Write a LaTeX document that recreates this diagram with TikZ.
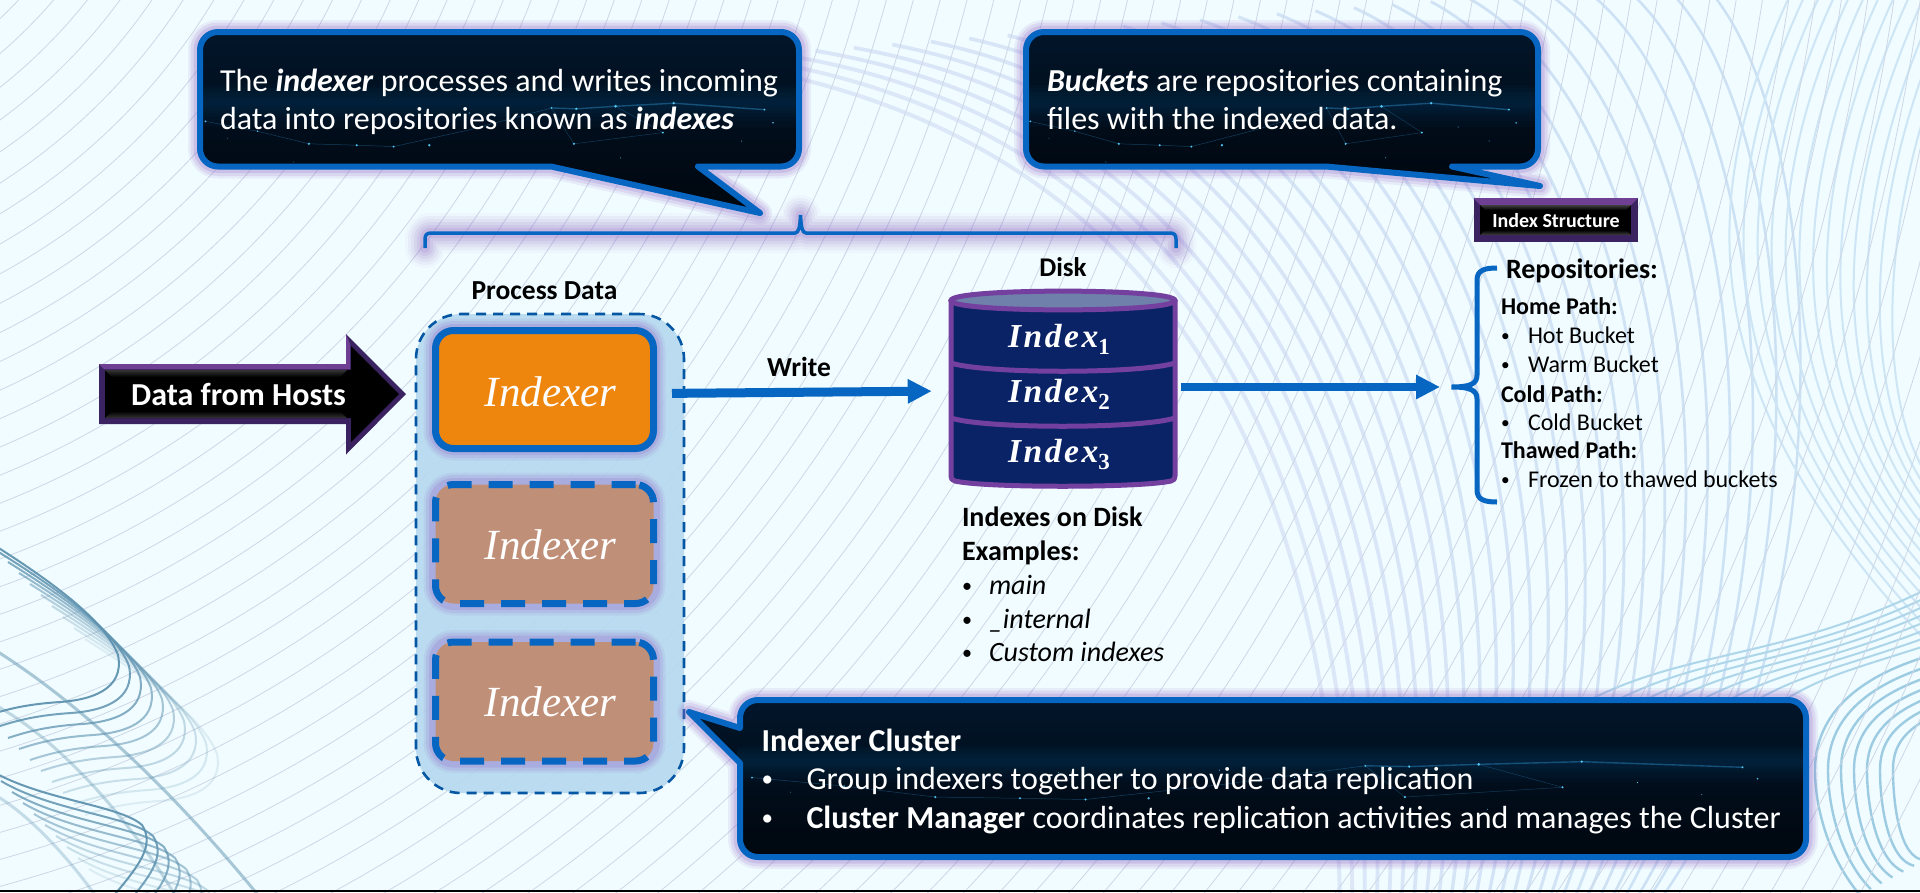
\documentclass[tikz,border=0pt]{standalone}
\usepackage{fontspec}
\setmainfont{Carlito}
\newfontfamily\serifidx{Liberation Serif}
\usetikzlibrary{arrows.meta}
\definecolor{bgc}{HTML}{F0FCFF}
\definecolor{thinc}{HTML}{CDD7E6}
\definecolor{strokeblue}{HTML}{0666C1}
\definecolor{glowc}{HTML}{8E63C4}
\definecolor{navy}{HTML}{0A2366}
\definecolor{cylp}{HTML}{7440A0}
\definecolor{cylt}{HTML}{6F80AB}
\definecolor{orangeb}{HTML}{EE860E}
\definecolor{brownb}{HTML}{C08F78}
\definecolor{contf}{HTML}{B4D8EF}
\definecolor{darkp}{HTML}{3B2261}
\definecolor{litep}{HTML}{6E3F92}
\definecolor{waveL}{HTML}{DCE7F8}
\definecolor{waveR}{HTML}{CBE1F3}
\definecolor{waveB}{HTML}{CDE5F4}
\definecolor{waveD}{HTML}{AED6EA}
\definecolor{waveC}{HTML}{9CCBE2}
\definecolor{motif}{HTML}{5F93B0}
\definecolor{skytop}{HTML}{02162B}
\definecolor{skymid}{HTML}{03203A}
\definecolor{skybot}{HTML}{00060D}
\definecolor{skyband}{HTML}{0E5C96}
\definecolor{skyline}{HTML}{2F8CC8}
\definecolor{skydot}{HTML}{4FC3EE}
\newcommand\fsz[1]{\fontsize{#1}{#1}\selectfont}
\newcommand\bitxt[1]{\textbf{\textit{#1}}}
\newcommand\bul[1]{\makebox[#1][l]{\raisebox{.07em}{\scalebox{.72}{•}}}}
\newcommand\idx[1]{{\serifidx\bfseries\itshape\addfontfeatures{LetterSpace=7.5}\fsz{33.5}Index}\raisebox{-7pt}{\serifidx\bfseries\fsz{23}#1}}
% rounded box with insertable pointers: x0 y0 x1 y1 bottomPointer leftPointer
\newcommand\cpath[6]{(#1+18,#2) -- (#3-18,#2) .. controls (#3-8,#2) and (#3,#2+8) .. (#3,#2+18) -- (#3,#4-18) .. controls (#3,#4-8) and (#3-8,#4) .. (#3-18,#4) #5 -- (#1+18,#4) .. controls (#1+8,#4) and (#1,#4-8) .. (#1,#4-18) #6 -- (#1,#2+18) .. controls (#1,#2+8) and (#1+8,#2) .. (#1+18,#2) -- cycle}
% night-sky texture in normalised coordinates of the box
\newcommand\sky[4]{%
  \foreach \bb/\hh in {.50/.06,.48/.10,.46/.14,.44/.18,.42/.24,.40/.30}{
    \fill[fill=skyband,fill opacity=.045] (#1,{#2+\bb*(#4-#2)}) rectangle (#3,{#2+(\bb+\hh)*(#4-#2)});
  }
  \draw[skyline,line width=.5pt,opacity=.4]
    ({#1+.014*(#3-#1)},{#2+.66*(#4-#2)}) -- ({#1+.10*(#3-#1)},{#2+.73*(#4-#2)}) -- ({#1+.185*(#3-#1)},{#2+.82*(#4-#2)}) -- ({#1+.264*(#3-#1)},{#2+.83*(#4-#2)}) -- ({#1+.325*(#3-#1)},{#2+.84*(#4-#2)}) -- ({#1+.45*(#3-#1)},{#2+.72*(#4-#2)}) -- ({#1+.586*(#3-#1)},{#2+.564*(#4-#2)});
  \draw[skyline,line width=1.4pt,opacity=.45] ({#1+.586*(#3-#1)},{#2+.564*(#4-#2)}) -- ({#1+.627*(#3-#1)},{#2+.57*(#4-#2)}) -- ({#1+.692*(#3-#1)},{#2+.552*(#4-#2)}) -- ({#1+.788*(#3-#1)},{#2+.53*(#4-#2)}) -- ({#1+.938*(#3-#1)},{#2+.576*(#4-#2)});
  \draw[skyline,line width=.5pt,opacity=.35] ({#1+.586*(#3-#1)},{#2+.564*(#4-#2)}) -- ({#1+.623*(#3-#1)},{#2+.82*(#4-#2)}) -- ({#1+.77*(#3-#1)},{#2+.74*(#4-#2)}) -- ({#1+.692*(#3-#1)},{#2+.552*(#4-#2)});
  \foreach \uu/\vv/\rr in {.014/.66/1.0,.10/.73/.8,.185/.82/1.2,.264/.83/1.1,.325/.84/1.1,.384/.83/1.3,.623/.82/1.2,.586/.564/1,.627/.57/1.3,.692/.552/1.5,.788/.53/1.3,.938/.576/1.1,.952/.67/.9,.77/.74/1.1,.45/.60/.6,.52/.66/.6,.84/.7/.6,.9/.8/.5,.3/.62/.5,.16/.95/.4,.7/.92/.5,.05/.78/.4}{
    \fill[skydot] ({#1+\uu*(#3-#1)},{#2+\vv*(#4-#2)}) circle[radius=\rr];
  }
}
\tikzset{
  softglow/.style={
    preaction={draw=glowc,solid,draw opacity=.10,line width=24pt,line join=round},
    preaction={draw=glowc,solid,draw opacity=.14,line width=19pt,line join=round},
    preaction={draw=glowc,solid,draw opacity=.20,line width=13pt,line join=round}},
  bigglow/.style={
    preaction={draw=glowc,solid,draw opacity=.04,line width=40pt,line join=round,line cap=round},
    preaction={draw=glowc,solid,draw opacity=.06,line width=34pt,line join=round,line cap=round},
    preaction={draw=glowc,solid,draw opacity=.08,line width=28pt,line join=round,line cap=round},
    preaction={draw=glowc,solid,draw opacity=.10,line width=22pt,line join=round,line cap=round},
    preaction={draw=glowc,solid,draw opacity=.12,line width=16pt,line join=round,line cap=round},
    preaction={draw=glowc,solid,draw opacity=.14,line width=10pt,line join=round,line cap=round}},
  calloutedge/.style={draw=strokeblue,line width=6pt,line join=round},
  txt/.style={anchor=base west,inner sep=0pt,outer sep=0pt},
  ctr/.style={anchor=base,inner sep=0pt,outer sep=0pt},
  idxbox/.style={rectangle,rounded corners=18pt,minimum width=218pt,draw=strokeblue,line width=7pt,inner sep=0pt,
    text=white,font={\serifidx\itshape\fsz{43}},text depth=0pt,softglow},
  dashbox/.style={idxbox,dash pattern=on 24pt off 17pt,fill=brownb,text height=30pt},
  flowarrow/.style={draw=strokeblue,-{Triangle[length=24pt,width=23pt]}},
}
\begin{document}
\begin{tikzpicture}[x=1pt,y=-1pt]
\useasboundingbox (0,0) rectangle (1920,892);
\begin{scope}
\clip (0,0) rectangle (1920,892);
\fill[bgc] (0,0) rectangle (1920,892);
% thick lavender lines sweeping from the upper middle down the right side
\foreach \k in {0,...,26}{
  \pgfmathsetmacro\t{\k/26}
  \pgfmathsetmacro\mixv{int(100*\t)}
  \pgfmathsetmacro\lw{4-1.6*\t}
  \draw[waveR!\mixv!waveL,line width=\lw pt] ({700+1000*\t},{60-80*\t}) .. controls ({1150+690*\t},120) and ({1330+510*\t},{450+200*\t}) .. ({1340+320*\t},900);
}
% right-hand S curves
\foreach \k in {0,...,12}{
  \draw[waveB,line width=2pt] ({1790+15*\k},-5) .. controls ({1690+15*\k},{210}) and ({1700+15*\k},{400}) .. ({1925},{640-14*\k});
}
% sweep into the right edge
\foreach \k in {0,...,7}{
  \draw[waveD,line width=2pt] ({1580+28*\k},705) .. controls ({1680+20*\k},{650+4*\k}) and ({1780+8*\k},{660+2*\k}) .. (1925,{590+8*\k});
}
% arcs, lower right
\foreach \k in {0,...,6}{
  \pgfmathsetmacro\s{\k/6}
  \draw[waveC,line width=2.4pt] (1925,{657+63*\s}) .. controls ({1850+50*\s},{680+55*\s}) and ({1815+78*\s},{720+30*\s}) .. ({1815+78*\s},770) .. controls ({1815+78*\s},{810-5*\s}) and ({1830+70*\s},860) .. ({1860+65*\s},{895-35*\s});
}
% thin family
\foreach \rr in {480,506,...,2520}{
  \draw[thinc,line width=.8pt] (-330,-330) circle[radius=\rr];
}
% lower left motif
\foreach \i/\o in {0/.95,1/.85,2/.75,3/.62,4/.52,5/.42,6/.34,7/.27,8/.2,9/.14}{
  \begin{scope}[shift={({11*\i},{11*\i})}]
  \draw[motif,line width=2pt,opacity=\o] (-14,540) .. controls (50,580) and (105,620) .. (118,655) .. controls (125,690) and (90,700) .. (60,702) .. controls (30,704) and (10,708) .. (-14,716);
  \draw[motif,line width=2pt,opacity=\o] (-10,770) .. controls (40,800) and (120,805) .. (142,825) .. controls (155,845) and (140,865) .. (110,900);
  \end{scope}
}
\draw[motif,line width=3pt,opacity=.5] (-5,650) .. controls (90,710) and (180,800) .. (258,895);
\draw[motif,line width=3pt,opacity=.35] (-5,705) .. controls (60,740) and (130,820) .. (175,895);
\draw[motif,line width=3pt,opacity=.3] (-5,795) .. controls (30,815) and (70,860) .. (95,895);
\fill[black] (0,890) rectangle (1920,892);
\end{scope}

% bracket over both
\draw[draw=strokeblue,line width=3.5pt,bigglow] (425,248) -- (425,239) .. controls (425,235) and (427,233) .. (431,233) -- (795,233) .. controls (799,233) and (800,226) .. (800.5,215) .. controls (801,226) and (802,233) .. (806,233) -- (1170,233) .. controls (1174,233) and (1176,235) .. (1176,239) -- (1176,248);

% top-left callout
\newcommand\calloutA{\cpath{200}{32}{799}{166.5}{-- (698,166.5) -- (760,213) -- (551,166.5)}{}}
\path[softglow] \calloutA;
\begin{scope}
\clip \calloutA;
\shade[top color=skytop,middle color=skymid,bottom color=skybot] (190,25) rectangle (810,220);
\sky{197}{29}{802}{169}
\end{scope}
\draw[calloutedge] \calloutA;
\node[txt,text=white] (t1a) at (220,91) {\fsz{32}The \bitxt{indexer} processes and writes incoming};
\node[txt,text=white] (t1b) at (220,129) {\fsz{32}data into repositories known as \bitxt{indexes}};

% top-right callout
\newcommand\calloutB{\cpath{1026}{32}{1538}{166.5}{-- (1452,166.5) -- (1540,186) -- (1326,166.5)}{}}
\path[softglow] \calloutB;
\begin{scope}
\clip \calloutB;
\shade[top color=skytop,middle color=skymid,bottom color=skybot] (1015,25) rectangle (1550,195);
\sky{1023}{29}{1541}{169}
\end{scope}
\draw[calloutedge] \calloutB;
\node[txt,text=white] (t2a) at (1047,91) {\fsz{32}\bitxt{Buckets} are repositories containing};
\node[txt,text=white] (t2b) at (1047,129) {\fsz{32}files with the indexed data.};

% container
\node[draw=strokeblue!85!black,line width=2.6pt,dash pattern=on 10pt off 7pt,rounded corners=45pt,fill=contf,fill opacity=.88,draw opacity=1,minimum width=268pt,minimum height=479pt,inner sep=0pt] (cluster) at (550,553.5) {};
\node[ctr] (lblproc) at (544.5,299) {\fsz{27.5}\textbf{Process Data}};

% indexers
\node[idxbox,fill=orangeb,minimum height=118pt,text height=34pt] (indexer1) at (544.5,389.5) {\hspace{12pt}Indexer};
\node[dashbox,minimum height=119pt] (indexer2) at (544.5,544) {\hspace{12pt}Indexer};
\node[dashbox,minimum height=119pt] (indexer3) at (544.5,701.5) {\hspace{12pt}Indexer};

% data from hosts
\fill[darkp] (99,364) -- (346,364) -- (346,334) -- (406,394) -- (346,454.5) -- (346,424) -- (99,424) -- cycle;
\fill[litep] (99,364) -- (346,364) -- (346,334) -- (350,344) -- (350,369) -- (104,369) -- cycle;
\fill[black] (105,370) -- (351,370) -- (351,346) -- (399,394) -- (351,442) -- (351,418) -- (105,418) -- cycle;
\shade[top color=black!80,bottom color=black] (105,370) -- (347,370) -- (340,377) -- (112,377) -- cycle;
\shade[top color=black,bottom color=black!80] (112,411) -- (340,411) -- (347,418) -- (105,418) -- cycle;
\node[ctr,text=white] (lblhosts) at (238.5,405) {\fsz{32}\textbf{Data from Hosts}};

% disk
\node[inner sep=0pt,minimum width=229pt,minimum height=199pt] (disk) at (1063,388.5) {};
\draw[fill=navy,draw=cylp,line width=5pt,line join=round] (951,300.5) -- (951,476) .. controls (951,479) and (952,480) .. (955,481) .. controls (985,488) and (1140,488) .. (1171,481) .. controls (1174,480) and (1175,479) .. (1175,476) -- (1175,300.5) -- cycle;
\draw[fill=cylt,draw=cylp,line width=5pt] (951,300.5) .. controls (951,288) and (1175,288) .. (1175,300.5) .. controls (1175,313) and (951,313) .. (951,300.5) -- cycle;
\draw[draw=cylp,line width=5pt] (951,363) .. controls (985,374) and (1140,374) .. (1175,363);
\draw[draw=cylp,line width=5pt] (951,418) .. controls (985,429) and (1140,429) .. (1175,418);
\node[ctr,text=white] (idx1) at (1059,347) {\idx{1}};
\node[ctr,text=white] (idx2) at (1059,402) {\idx{2}};
\node[ctr,text=white] (idx3) at (1059,462) {\idx{3}};
\node[ctr] (lbldisk) at (1063,276) {\fsz{27}\textbf{Disk}};

% connectors
\node[ctr] (lblwrite) at (799,376) {\fsz{27.5}\textbf{Write}};
\draw[flowarrow,line width=9pt,shorten <=15pt,shorten >=16.6pt] ([yshift=-4pt]indexer1.east) -- ([yshift=-2.5pt]disk.west);
\coordinate (bracetip) at (1451.5,387);
\draw[flowarrow,line width=8pt,shorten <=3.5pt,shorten >=11.5pt] ([yshift=1.5pt]disk.east) -- (bracetip);

% indexes on disk
\node[txt] (ex1) at (962,526) {\fsz{28}\textbf{Indexes on Disk}};
\node[txt] (ex2) at (962,560) {\fsz{28}\textbf{Examples:}};
\node[txt] (ex3) at (962,594) {\fsz{28}\bul{27pt}\textit{main}};
\node[txt] (ex4) at (962,628) {\fsz{28}\bul{27pt}\textit{\_internal}};
\node[txt] (ex5) at (962,661) {\fsz{28}\bul{27pt}\textit{Custom indexes}};

% index structure
\fill[darkp] (1473.5,198) rectangle (1638,242);
\fill[litep] (1473.5,198) -- (1638,198) -- (1631,205) -- (1480,205) -- cycle;
\fill[black] (1480,205) rectangle (1631,235);
\shade[top color=black!75,bottom color=black] (1480,205) -- (1631,205) -- (1626,210) -- (1485,210) -- cycle;
\shade[top color=black,bottom color=black!75] (1485,230) -- (1626,230) -- (1631,235) -- (1480,235) -- cycle;
\node[ctr,text=white] (lblstruct) at (1556,227.5) {\fsz{20}\textbf{Index Structure}};

% curly brace
\draw[draw=strokeblue,line width=5pt] (1497,268) .. controls (1485,268) and (1477,270) .. (1477,280) -- (1477,375) .. controls (1477,384) and (1470,387) .. (1451.5,387) .. controls (1470,387) and (1477,390) .. (1477,399) -- (1477,490) .. controls (1477,500) and (1485,502) .. (1497,502);

\node[txt] (r0) at (1506,278) {\fsz{28}\textbf{Repositories:}};
\node[txt] (r1) at (1501,314) {\fsz{24}\textbf{Home Path:}};
\node[txt] (r2) at (1501,343) {\fsz{24}\bul{27pt}Hot Bucket};
\node[txt] (r3) at (1501,372.5) {\fsz{24}\bul{27pt}Warm Bucket};
\node[txt] (r4) at (1501,402) {\fsz{24}\textbf{Cold Path:}};
\node[txt] (r5) at (1501,430) {\fsz{24}\bul{27pt}Cold Bucket};
\node[txt] (r6) at (1501,458) {\fsz{24}\textbf{Thawed Path:}};
\node[txt] (r7) at (1501,487.5) {\fsz{24}\bul{27pt}Frozen to thawed buckets};

% bottom callout
\newcommand\calloutC{\cpath{740}{700}{1806}{857}{}{-- (740,763) -- (689,712) -- (740,728)}}
\path[softglow] \calloutC;
\begin{scope}
\clip \calloutC;
\shade[top color=skytop,middle color=skymid,bottom color=skybot] (680,695) rectangle (1815,865);
\sky{737}{697}{1809}{819}
\end{scope}
\draw[calloutedge] \calloutC;
\node[txt,text=white] (c0) at (761.5,751) {\fsz{32}\textbf{Indexer Cluster}};
\node[txt,text=white] (c1) at (761.5,789) {\fsz{32}\bul{45pt}Group indexers together to provide data replication};
\node[txt,text=white] (c2) at (761.5,828) {\fsz{32}\bul{45pt}\textbf{Cluster Manager} coordinates replication activities and manages the Cluster};
\end{tikzpicture}
\end{document}
